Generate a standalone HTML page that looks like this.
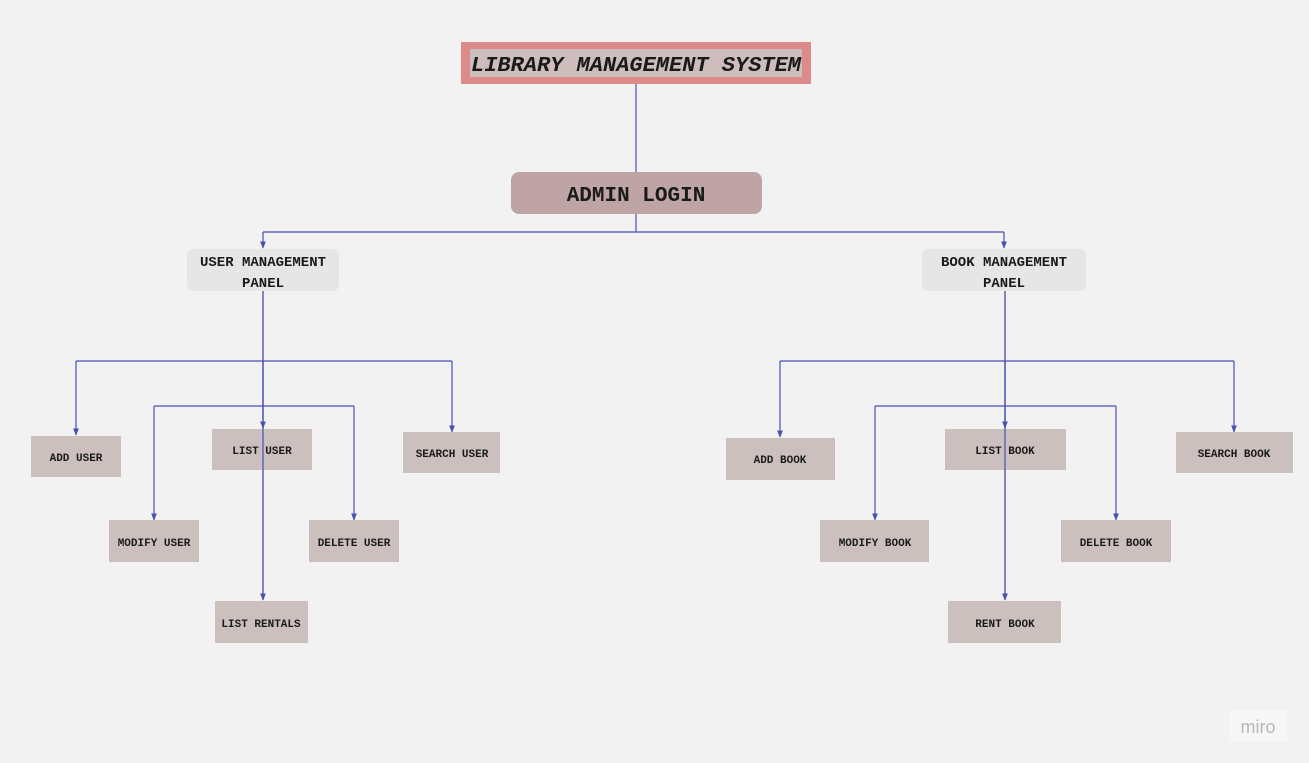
<!DOCTYPE html>
<html><head><meta charset="utf-8"><style>
body{margin:0;background:#f2f2f2;width:1309px;height:763px;overflow:hidden}
svg{display:block}
text{font-family:"Liberation Mono","DejaVu Sans Mono",monospace;fill:#1a1a1a;text-anchor:middle}
.s{font-size:11px;font-weight:bold}
</style></head><body>
<svg width="1309" height="763" viewBox="0 0 1309 763">
<defs><marker id="a" viewBox="0 0 10 10" refX="9" refY="5" markerWidth="6" markerHeight="6" orient="auto"><path d="M0,1 L10,5 L0,9z" fill="#4a4fb0"/></marker></defs>
<rect width="1309" height="763" fill="#f2f2f2"/>
<g stroke="#4a4fb0" stroke-width="1.2" fill="none">
<path d="M636 84V232"/>
<path d="M263 232H1004"/>
<path d="M263 232V248" marker-end="url(#a)"/>
<path d="M1004 232V248" marker-end="url(#a)"/>
<path d="M263 291V600" marker-end="url(#a)"/>
<path d="M76 361H452"/>
<path d="M76 361V435" marker-end="url(#a)"/>
<path d="M452 361V432" marker-end="url(#a)"/>
<path d="M263 361V428" marker-end="url(#a)"/>
<path d="M154 406H354"/>
<path d="M154 406V520" marker-end="url(#a)"/>
<path d="M354 406V520" marker-end="url(#a)"/>
<path d="M1005 291V600" marker-end="url(#a)"/>
<path d="M780 361H1234"/>
<path d="M780 361V437" marker-end="url(#a)"/>
<path d="M1234 361V432" marker-end="url(#a)"/>
<path d="M1005 361V428" marker-end="url(#a)"/>
<path d="M875 406H1116"/>
<path d="M875 406V520" marker-end="url(#a)"/>
<path d="M1116 406V520" marker-end="url(#a)"/>
</g>
<rect x="461" y="42" width="350" height="42" fill="#dc8a8a"/>
<rect x="470" y="49" width="332" height="28" fill="#cdbdbd"/>
<text x="636" y="71" font-size="21" font-weight="bold" font-style="italic" textLength="330" lengthAdjust="spacingAndGlyphs">LIBRARY MANAGEMENT SYSTEM</text>
<rect x="511" y="172" width="251" height="42" rx="8" fill="#bea4a4"/>
<text x="636" y="201" font-size="21" font-weight="bold">ADMIN LOGIN</text>
<rect x="187" y="249" width="152" height="42" rx="6" fill="#e6e6e6"/>
<text x="263" y="266" font-size="14" font-weight="bold">USER MANAGEMENT</text>
<text x="263" y="287" font-size="14" font-weight="bold">PANEL</text>
<rect x="922" y="249" width="164" height="42" rx="6" fill="#e6e6e6"/>
<text x="1004" y="266" font-size="14" font-weight="bold">BOOK MANAGEMENT</text>
<text x="1004" y="287" font-size="14" font-weight="bold">PANEL</text>
<g fill="#cbc0be">
<rect x="31" y="436" width="90" height="41"/>
<rect x="212" y="429" width="100" height="41"/>
<rect x="403" y="432" width="97" height="41"/>
<rect x="109" y="520" width="90" height="42"/>
<rect x="309" y="520" width="90" height="42"/>
<rect x="215" y="601" width="93" height="42"/>
<rect x="726" y="438" width="109" height="42"/>
<rect x="945" y="429" width="121" height="41"/>
<rect x="1176" y="432" width="117" height="41"/>
<rect x="820" y="520" width="109" height="42"/>
<rect x="1061" y="520" width="110" height="42"/>
<rect x="948" y="601" width="113" height="42"/>
</g>
<path d="M263 291V600" stroke="#4a4fb0" stroke-width="1.2"/>
<path d="M1005 291V600" stroke="#4a4fb0" stroke-width="1.2"/>
<g class="s">
<text class="s" x="76" y="461">ADD USER</text>
<text class="s" x="262" y="454">LIST USER</text>
<text class="s" x="452" y="457">SEARCH USER</text>
<text class="s" x="154" y="546">MODIFY USER</text>
<text class="s" x="354" y="546">DELETE USER</text>
<text class="s" x="261" y="627">LIST RENTALS</text>
<text class="s" x="780" y="463">ADD BOOK</text>
<text class="s" x="1005" y="454">LIST BOOK</text>
<text class="s" x="1234" y="457">SEARCH BOOK</text>
<text class="s" x="875" y="546">MODIFY BOOK</text>
<text class="s" x="1116" y="546">DELETE BOOK</text>
<text class="s" x="1005" y="627">RENT BOOK</text>
</g>
<rect x="1229" y="710" width="58" height="32" fill="#f6f6f6"/>
<text x="1258" y="733" font-size="18" style="font-family:'Liberation Sans',sans-serif;fill:#b8b8b8">miro</text>
</svg>
</body></html>
